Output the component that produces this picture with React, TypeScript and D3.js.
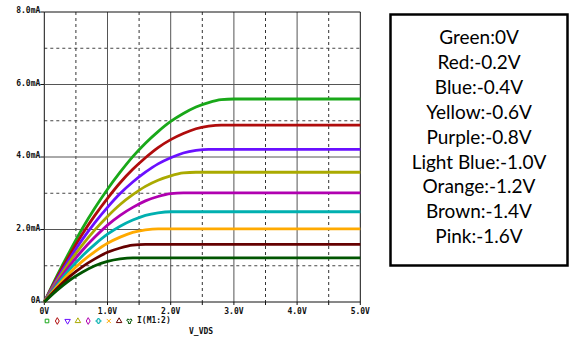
import React from "react";
import * as d3 from "d3";

const vds = [0, 0.2, 0.4, 0.6, 0.8, 1.0, 1.2, 1.4, 1.6, 1.8, 2.0, 2.2, 2.4, 2.6, 2.8, 3.0, 5.0];

const green = [0, 0.72, 1.39, 2.02, 2.59, 3.11, 3.58, 4.01, 4.38, 4.7, 4.98, 5.2, 5.38, 5.5, 5.58, 5.6, 5.6];
const red = [0, 0.67, 1.29, 1.87, 2.39, 2.86, 3.29, 3.66, 3.98, 4.26, 4.48, 4.65, 4.78, 4.85, 4.88, 4.88, 4.88];
const blue = [0, 0.62, 1.19, 1.72, 2.19, 2.61, 2.99, 3.31, 3.58, 3.81, 3.98, 4.11, 4.18, 4.21, 4.21, 4.21, 4.21];
const yellow = [0, 0.57, 1.1, 1.57, 1.99, 2.36, 2.69, 2.96, 3.19, 3.36, 3.48, 3.56, 3.58, 3.58, 3.58, 3.58, 3.58];
const purple = [0, 0.52, 1.0, 1.42, 1.79, 2.12, 2.39, 2.61, 2.79, 2.91, 2.99, 3.01, 3.01, 3.01, 3.01, 3.01, 3.01];
const lightBlue = [0, 0.47, 0.9, 1.27, 1.59, 1.87, 2.09, 2.26, 2.39, 2.46, 2.49, 2.49, 2.49, 2.49, 2.49, 2.49, 2.49];
const orange = [0, 0.42, 0.8, 1.12, 1.39, 1.62, 1.79, 1.92, 1.99, 2.02, 2.02, 2.02, 2.02, 2.02, 2.02, 2.02, 2.02];
const brown = [0, 0.37, 0.7, 0.97, 1.19, 1.37, 1.49, 1.57, 1.59, 1.59, 1.59, 1.59, 1.59, 1.59, 1.59, 1.59, 1.59];
const darkGreen = [0, 0.32, 0.6, 0.82, 1.0, 1.12, 1.19, 1.22, 1.22, 1.22, 1.22, 1.22, 1.22, 1.22, 1.22, 1.22, 1.22];

const seriesValues = [green, red, blue, yellow, purple, lightBlue, orange, brown, darkGreen];
const seriesColors = ["#19a819", "#b00c0c", "#6a10ff", "#aaaa00", "#b000b0", "#00b0b0", "#ffaa00", "#650000", "#005500"];
const seriesSymbols = ["square", "diamond", "triDown", "triangle", "diamond", "cross", "x", "triangle", "wye"];

const xTicks = [0, 1, 2, 3, 4, 5];
const xTickLabels = ["0V", "1.0V", "2.0V", "3.0V", "4.0V", "5.0V"];
const yTicks = [0, 2, 4, 6, 8];
const yTickLabels = ["0A", "2.0mA", "4.0mA", "6.0mA", "8.0mA"];
const xMinor = [0.5, 1.5, 2.5, 3.5, 4.5];
const yMinor = [1, 3, 5, 7];

const legendLines = [
  "Green:0V",
  "Red:-0.2V",
  "Blue:-0.4V",
  "Yellow:-0.6V",
  "Purple:-0.8V",
  "Light Blue:-1.0V",
  "Orange:-1.2V",
  "Brown:-1.4V",
  "Pink:-1.6V",
];

const traceName = "I(M1:2)";
const xTitle = "V_VDS";

export default function App() {
  const x = d3.scaleLinear().domain([0, 5]).range([44.3, 360.3]);
  const y = d3.scaleLinear().domain([0, 8]).range([302, 12]);
  const line = d3
    .line<number>()
    .x((_, i) => x(vds[i]))
    .y((d) => y(d))
    .curve(d3.curveMonotoneX);

  const axisFont = { fontFamily: "DejaVu Sans Mono", fontWeight: "bold", fontSize: 8 } as const;

  const symPath = (name: string) => {
    const map: Record<string, any> = {
      square: d3.symbolSquare,
      diamond: d3.symbolDiamond,
      triangle: d3.symbolTriangle,
      triDown: d3.symbolTriangle,
      cross: d3.symbolCross,
      x: d3.symbolX,
      wye: d3.symbolWye,
    };
    return d3.symbol().type(map[name]).size(13)() as string;
  };

  return (
    <svg
      width={574}
      height={340}
      style={{ position: "absolute", left: 0, top: 0, background: "#fff" }}
    >
      <rect x={0} y={0} width={574} height={340} fill="#fff" />
      {/* minor grid */}
      {xMinor.map((v) => (
        <line key={"xm" + v} x1={x(v)} x2={x(v)} y1={y(8)} y2={y(0)} stroke="#333" strokeWidth={1} strokeDasharray="3,3" />
      ))}
      {yMinor.map((v) => (
        <line key={"ym" + v} x1={x(0)} x2={x(5)} y1={y(v)} y2={y(v)} stroke="#444" strokeWidth={1} strokeDasharray="3,3" />
      ))}
      {/* major grid */}
      {xTicks.map((v) => (
        <line key={"xg" + v} x1={x(v)} x2={x(v)} y1={y(8)} y2={y(0)} stroke={v === 0 || v === 5 ? "#111" : "#555"} strokeWidth={1} />
      ))}
      {yTicks.map((v) => (
        <line key={"yg" + v} x1={x(0)} x2={x(5)} y1={y(v)} y2={y(v)} stroke={v === 0 || v === 8 ? "#111" : "#555"} strokeWidth={1} />
      ))}
      {/* ticks */}
      {[...xTicks, ...xMinor].map((v) => (
        <line key={"xt" + v} x1={x(v)} x2={x(v)} y1={y(0)} y2={y(0) + 3} stroke="#111" strokeWidth={1} />
      ))}
      {yTicks.map((v) => (
        <line key={"yt" + v} x1={x(0) - 4} x2={x(0)} y1={y(v)} y2={y(v)} stroke="#111" strokeWidth={1} />
      ))}
      {/* tick labels */}
      {xTicks.map((v, i) => (
        <text key={"xl" + v} x={x(v)} y={y(0) + 12} textAnchor="middle" {...axisFont} fill="#111">
          {xTickLabels[i]}
        </text>
      ))}
      {yTicks.map((v, i) => (
        <text key={"yl" + v} x={x(0) - 4} y={y(v) + 1} textAnchor="end" {...axisFont} fill="#111">
          {yTickLabels[i]}
        </text>
      ))}
      {/* traces */}
      {seriesValues.map((s, i) => (
        <path key={"s" + i} d={line(s) as string} fill="none" stroke={seriesColors[i]} strokeWidth={2.8} />
      ))}
      {/* trace legend */}
      {seriesSymbols.map((s, i) => (
        <path
          key={"sym" + i}
          d={symPath(s)}
          transform={`translate(${47 + i * 10.3},321)${s === "triDown" ? " rotate(180)" : ""}`}
          fill="none"
          stroke={seriesColors[i]}
          strokeWidth={1}
        />
      ))}
      <text x={137} y={323} {...axisFont} fill="#111">
        {traceName}
      </text>
      <text x={189} y={334} {...axisFont} fill="#111">
        {xTitle}
      </text>
      {/* annotation box */}
      <rect x={390.5} y={14.5} width={177} height={251} fill="#fff" stroke="#000" strokeWidth={2.5} />
      {legendLines.map((t, i) => (
        <text
          key={"lg" + i}
          x={479}
          y={44 + i * 24.9}
          textAnchor="middle"
          fontFamily="Lato"
          fontSize={19}
          fill="#000"
        >
          {t}
        </text>
      ))}
    </svg>
  );
}
